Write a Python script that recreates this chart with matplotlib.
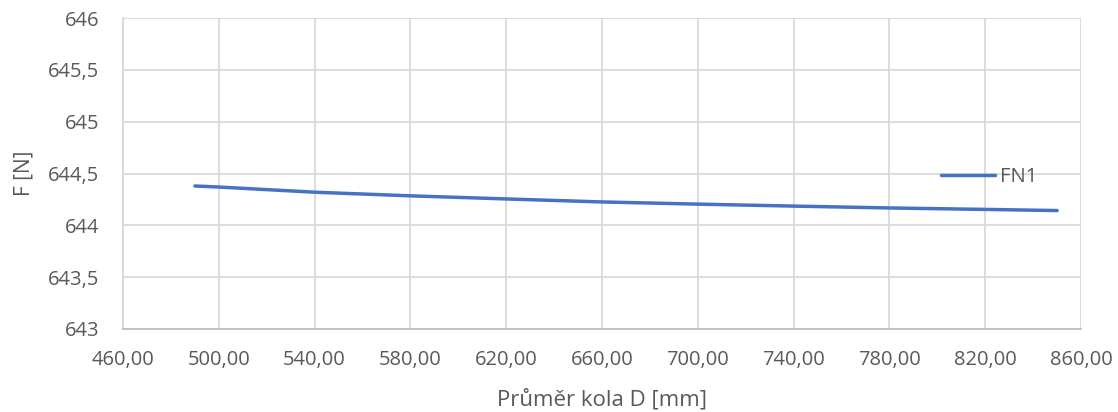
import matplotlib
matplotlib.use("Agg")
import matplotlib.pyplot as plt
import numpy as np
from matplotlib.ticker import FuncFormatter

# Data
diameter_mm = [490, 500, 540, 580, 620, 660, 700, 740, 780, 820, 850]
fn1 = [644.38, 644.37, 644.32, 644.285, 644.255, 644.226, 644.205, 644.186, 644.168, 644.154, 644.143]
series_label = "FN1"
x_label = "Průměr kola D [mm]"
y_label = "F [N]"
x_ticks = [460, 500, 540, 580, 620, 660, 700, 740, 780, 820, 860]
y_ticks = [643, 643.5, 644, 644.5, 645, 645.5, 646]

plt.rcParams['font.family'] = ['Open Sans', 'DejaVu Sans']
text_color = '#595959'
grid_color = '#D9D9D9'

fig = plt.figure(figsize=(11.18, 4.12), dpi=100)
ax = fig.add_axes([0.110, 0.2015, 0.857, 0.7545])

ax.plot(diameter_mm, fn1, color='#4472C4', linewidth=2.5, label=series_label,
        solid_capstyle='round')

ax.set_xlim(460, 860)
ax.set_ylim(643, 646)
ax.set_xticks(x_ticks)
ax.set_yticks(y_ticks)
ax.xaxis.set_major_formatter(FuncFormatter(lambda v, p: f"{v:.2f}".replace('.', ',')))
def yfmt(v, p):
    s = f"{v:.1f}"
    if s.endswith('.0'):
        s = s[:-2]
    return s.replace('.', ',')
ax.yaxis.set_major_formatter(FuncFormatter(yfmt))

ax.grid(True, color=grid_color, linewidth=1.3)
ax.set_axisbelow(True)
for side in ['top', 'right']:
    ax.spines[side].set_visible(False)
for side in ['left', 'bottom']:
    ax.spines[side].set_color(grid_color)
    ax.spines[side].set_linewidth(1.3)
ax.spines['bottom'].set_color('#BFBFBF')
ax.tick_params(axis='x', length=0, labelsize=14.5, colors=text_color, pad=15)
ax.tick_params(axis='y', length=0, labelsize=14.5, colors=text_color, pad=17)

ax.set_xlabel(x_label, fontsize=16, color=text_color, labelpad=14)
ax.set_ylabel(y_label, fontsize=15, color=text_color, labelpad=10)

leg = ax.legend(loc='center left', bbox_to_anchor=(0.845, 0.49), frameon=False,
                fontsize=14.5, handlelength=2.7, handletextpad=0.25, borderaxespad=0)
for t in leg.get_texts():
    t.set_color(text_color)

fig.savefig('out.png', dpi=100)
